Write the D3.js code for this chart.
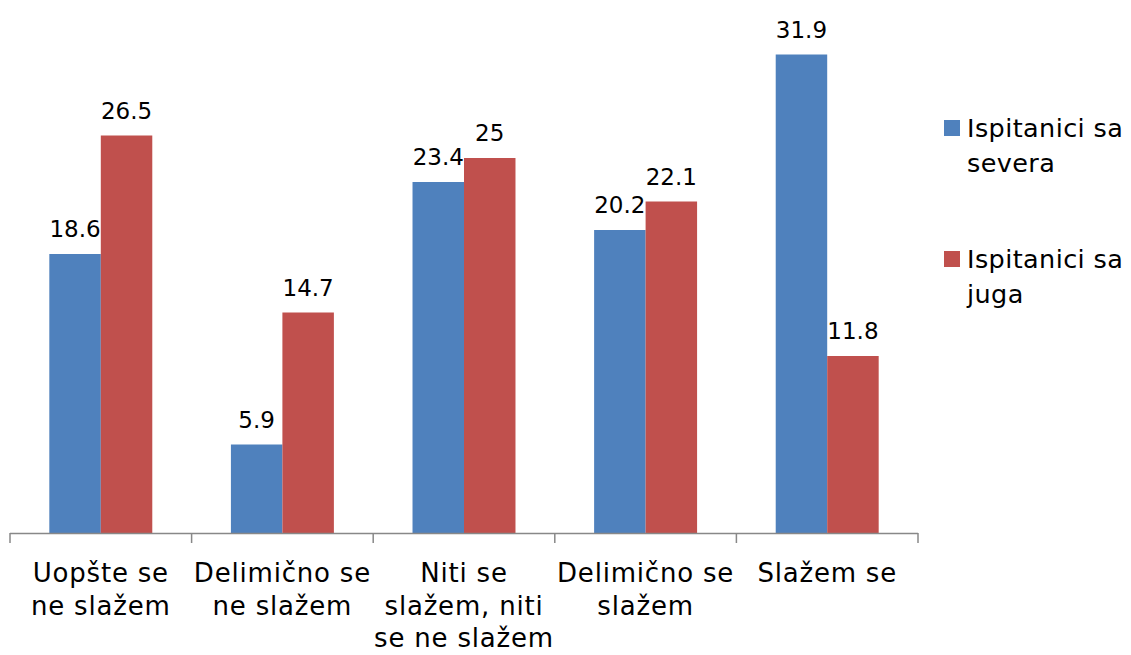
<!DOCTYPE html>
<html><head><meta charset="utf-8">
<script src="https://cdn.jsdelivr.net/npm/d3@7"></script>
<style>body{margin:0;background:#fff}svg{display:block}text{font-family:"DejaVu Sans",sans-serif;fill:#000}</style>
</head><body><svg id="c" width="1131" height="655"></svg>
<script>
const categories = [["Uopšte se","ne slažem"],["Delimično se","ne slažem"],["Niti se","slažem, niti","se ne slažem"],["Delimično se","slažem"],["Slažem se"]];
const seriesNames = [["Ispitanici sa","severa"],["Ispitanici sa","juga"]];
const north = [18.6, 5.9, 23.4, 20.2, 31.9];
const south = [26.5, 14.7, 25, 22.1, 11.8];
const valueLabels = [["18.6","5.9","23.4","20.2","31.9"],["26.5","14.7","25","22.1","11.8"]];
const colors = ["#4f81bd","#c0504d"];

const svg = d3.select("#c");
const keys = categories.map((c,i)=>i);
const x0 = d3.scaleBand().domain(keys).range([10,918]).paddingInner(0.433).paddingOuter(0.2165);
const x1 = d3.scaleBand().domain([0,1]).range([0,x0.bandwidth()]);
const y = d3.scaleLinear().domain([0,35]).range([533,8]);
const series = [north, south];

const g = svg.append("g");
series.forEach((vals,s)=>{
  g.selectAll(".b"+s).data(vals).join("rect")
    .attr("x",(d,i)=>x0(i)+x1(s)).attr("width",x1.bandwidth())
    .attr("y",d=>y(d)).attr("height",d=>y(0)-y(d)).attr("fill",colors[s]);
  g.selectAll(".l"+s).data(vals).join("text")
    .attr("x",(d,i)=>x0(i)+x1(s)+x1.bandwidth()/2).attr("y",d=>y(d)-17)
    .attr("text-anchor","middle").style("font-size","23px").text((d,i)=>valueLabels[s][i]);
});

// axis
const step = x0.step();
const ticks = d3.range(6).map(i=>10+i*step);
svg.append("line").attr("x1",10).attr("x2",918).attr("y1",y(0)+0.5).attr("y2",y(0)+0.5).attr("stroke","#888").attr("stroke-width",1.5);
svg.selectAll(".tk").data(ticks).join("line").attr("x1",d=>d).attr("x2",d=>d).attr("y1",y(0)).attr("y2",y(0)+10).attr("stroke","#888").attr("stroke-width",1.5);

categories.forEach((lines,i)=>{
  const t = svg.append("text").attr("text-anchor","middle").style("font-size","26px").style("letter-spacing","0.8px");
  lines.forEach((ln,j)=>t.append("tspan").attr("x",x0(i)+x0.bandwidth()/2).attr("y",582+j*32.5).text(ln));
});

// legend
seriesNames.forEach((lines,s)=>{
  const yb = 137 + s*131;
  svg.append("rect").attr("x",944).attr("y",yb-17).attr("width",16).attr("height",16).attr("fill",colors[s]);
  const t = svg.append("text").style("font-size","25.5px").style("letter-spacing","0.4px");
  lines.forEach((ln,j)=>t.append("tspan").attr("x",967).attr("y",yb+j*35).text(ln));
});
</script></body></html>
